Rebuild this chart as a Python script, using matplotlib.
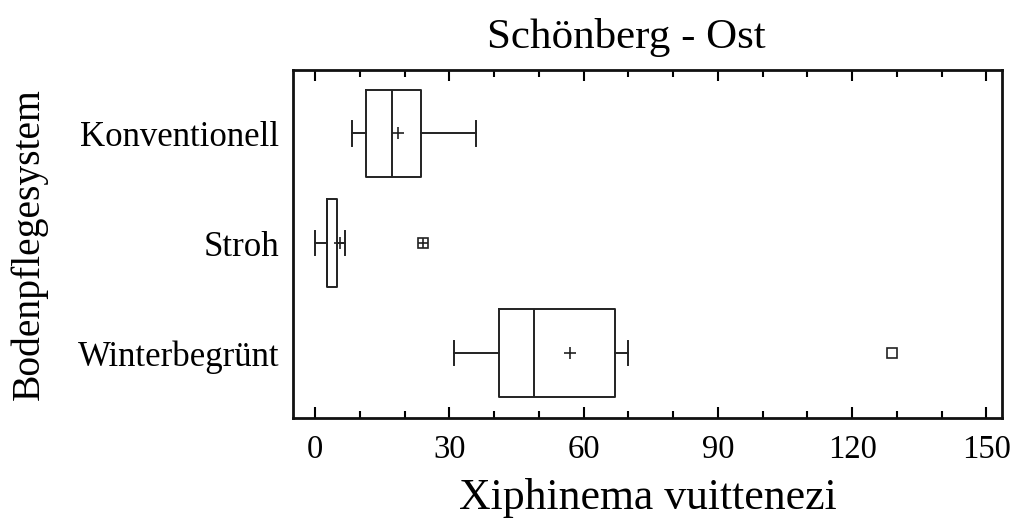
import matplotlib
matplotlib.use("Agg")
from matplotlib import pyplot as plt
from matplotlib.ticker import MultipleLocator

# Daten
gruppen = ["Konventionell", "Stroh", "Winterbegrünt"]
q1 = [11.4, 2.7, 41.0]
median = [17.2, 2.7, 49.0]
q3 = [23.6, 4.9, 67.0]
whis_lo = [8.1, 0.0, 31.0]
whis_hi = [35.9, 6.7, 70.0]
mittel = [18.5, 5.6, 57.0]
ausreisser = [[], [24.0], [129.0]]
weit_aussen = [[], [24.0], []]   # mit Kreuz im Quadrat

plt.rcParams['font.family'] = ['Liberation Serif', 'DejaVu Serif']

fig = plt.figure(figsize=(10.1, 5.21), dpi=100)
ax = fig.add_axes([0.290, 0.198, 0.702, 0.668])

stats = []
for i, g in enumerate(gruppen):
    stats.append(dict(label=g, q1=q1[i], med=median[i], q3=q3[i],
                      whislo=whis_lo[i], whishi=whis_hi[i],
                      mean=mittel[i], fliers=ausreisser[i]))

pos = [1, 2, 3]
lw = 1.4
ax.bxp(stats, positions=pos, orientation='horizontal', widths=0.8,
       capwidths=0.22, showmeans=True, showfliers=True,
       boxprops=dict(color='#222222', linewidth=lw),
       medianprops=dict(color='#222222', linewidth=lw),
       whiskerprops=dict(color='#222222', linewidth=lw),
       capprops=dict(color='#222222', linewidth=lw),
       meanprops=dict(marker='+', markersize=9, markeredgecolor='#222222',
                      markeredgewidth=1.2),
       flierprops=dict(marker='s', markersize=7, markerfacecolor='none',
                       markeredgecolor='#222222', markeredgewidth=1.2))

for i, w in enumerate(weit_aussen):
    if w:
        ax.plot(w, [pos[i]] * len(w), linestyle='none', marker='+',
                markersize=7, markeredgecolor='#222222', markeredgewidth=1.2)

ax.set_xlim(-5, 153.5)
ax.set_ylim(3.59, 0.42)
ax.set_yticks(pos)
ax.set_yticklabels(gruppen)
ax.xaxis.set_major_locator(MultipleLocator(30))
ax.xaxis.set_minor_locator(MultipleLocator(10))
ax.tick_params(axis='x', which='both', direction='in', top=True, bottom=True,
               width=1.5, labelsize=23.5, pad=12)
ax.tick_params(axis='x', which='major', length=8)
ax.tick_params(axis='x', which='minor', length=5)
ax.tick_params(axis='y', length=0, labelsize=25, pad=10)
for s in ax.spines.values():
    s.set_linewidth(2)
    s.set_color('#111111')

ax.set_title("Schönberg - Ost", fontsize=31, pad=16, x=0.47)
ax.set_xlabel("Xiphinema vuittenezi", fontsize=31.5, labelpad=9)
ax.set_ylabel("Bodenpflegesystem", fontsize=28.5)
ax.yaxis.set_label_coords(-0.345, 0.5)

plt.savefig("out.png", dpi=100)
